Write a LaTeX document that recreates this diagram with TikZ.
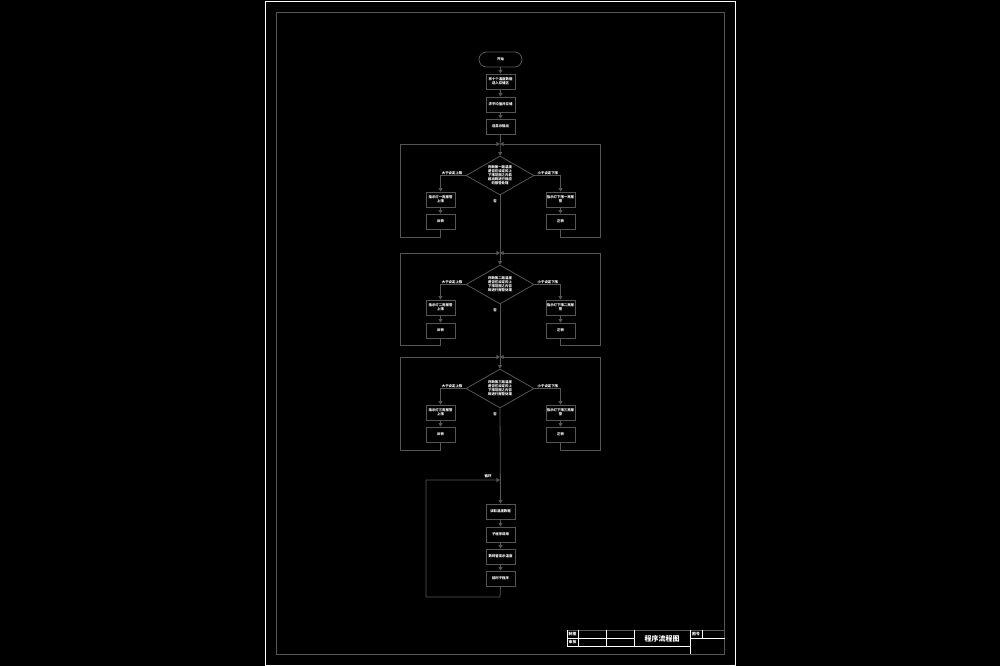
\documentclass[tikz,border=0pt]{standalone}
\usepackage{fontspec}
\newfontfamily\cjk{Noto Sans CJK SC}
\usetikzlibrary{shapes.geometric,arrows.meta}
\definecolor{lc}{HTML}{555555}
\begin{document}
\begin{tikzpicture}[x=1mm,y=-1mm,
  txt/.style={text=white,font=\cjk\bfseries\fontsize{3.4mm}{3.9mm}\selectfont},
  box/.style={txt,draw=lc,line width=0.8mm,minimum width=29mm,minimum height=15mm,inner sep=0.3mm,align=center,text width=27.5mm},
  dia/.style={txt,diamond,draw=lc,line width=0.8mm,minimum width=68mm,minimum height=39mm,inner sep=0mm,align=center,aspect=1.74},
  term/.style={txt,draw=lc,line width=0.8mm,rounded corners=7.5mm,minimum width=43mm,minimum height=15mm},
  ln/.style={draw=lc,line width=0.8mm},
  arr/.style={ln,-{Triangle[width=4mm,length=3.6mm]}},
  lab/.style={txt,inner sep=0.5mm},
  wl/.style={draw=white,line width=0.8mm},
  gl/.style={draw=lc,line width=0.8mm}]
\fill[black] (0,0) rectangle (1000,666);
\useasboundingbox (0,0) rectangle (1000,666);
% frames
\draw[wl] (265.5,1.5) rectangle (735,665);
\draw[gl] (276,12.5) rectangle (724.5,654);
% title block
\draw[gl] (567,630) -- (724.5,630);
\draw[wl] (567,630) -- (567,646);
\draw[wl] (567,638) -- (634,638);
\draw[wl] (567,646) -- (690,646);
\draw[wl] (578,630) -- (578,646);
\draw[wl] (606,630) -- (606,646);
\draw[wl] (634,630) -- (634,646);
\draw[wl] (690,630) -- (690,654);
\draw[wl] (702,630) -- (702,638);
\draw[wl] (690,638) -- (724.5,638);
\node[txt,font=\cjk\bfseries\fontsize{3.8mm}{4mm}\selectfont,inner sep=0] (tb1) at (572.5,634) {制图};
\node[txt,font=\cjk\bfseries\fontsize{3.8mm}{4mm}\selectfont,inner sep=0] (tb2) at (572.5,642) {审核};
\node[txt,font=\cjk\bfseries\fontsize{3.8mm}{4mm}\selectfont,inner sep=0] (tb3) at (696,634) {图号};
\node[txt,font=\cjk\bfseries\fontsize{7mm}{7mm}\selectfont,inner sep=0] (title) at (662,638.5) {程序流程图};
% top part
\node[term] (start) at (500.5,59.5) {开始};
\node[box] (a1) at (500.5,81.5) {将十个温度数据\\送入存储区};
\node[box] (a2) at (500.5,104.5) {求平均值并存储};
\node[box] (a3) at (500.5,126.5) {送显示输出};
\draw[arr] (start) -- (a1);
\draw[arr] (a1) -- (a2);
\draw[arr] (a2) -- (a3);
% sections
\node[dia] (d1) at (500,175.5) {判断第一路温度\\是否在设定的上\\下限范围之内若\\超出则进行相应\\的报警处理};
\node[dia] (d2) at (500,284.5) {判断第二路温度\\是否在设定的上\\下限范围之内否\\则进行报警处理};
\node[dia] (d3) at (500,388.5) {判断第三路温度\\是否在设定的上\\下限范围之内否\\则进行报警处理};
\coordinate (j1) at (500,144);
\coordinate (j2) at (500,253);
\coordinate (j3) at (500,357);
% section 1
\node[box] (l11) at (440.5,199.5) {指示灯一亮报警\\上限};
\node[box] (l12) at (440.5,221.5) {反转};
\node[box] (r11) at (560.5,199.5) {指示灯下限一亮报\\警};
\node[box] (r12) at (560.5,221.5) {正转};
% section 2
\node[box] (l21) at (440.5,307.5) {指示灯二亮报警\\上限};
\node[box] (l22) at (440.5,330.5) {反转};
\node[box] (r21) at (560.5,307.5) {指示灯下限二亮报\\警};
\node[box] (r22) at (560.5,330.5) {正转};
% section 3
\node[box] (l31) at (440.5,412.5) {指示灯三亮报警\\上限};
\node[box] (l32) at (440.5,434.5) {反转};
\node[box] (r31) at (560.5,412.5) {指示灯下限三亮报\\警};
\node[box] (r32) at (560.5,434.5) {正转};
% main line
\draw[arr] (a3) -- (d1);
\draw[arr] (d1) -- (d2);
\draw[arr] (d2) -- (d3);
% branches
\foreach \d/\l/\ll/\r/\rr/\j/\yb in {d1/l11/l12/r11/r12/j1/237, d2/l21/l22/r21/r22/j2/345, d3/l31/l32/r31/r32/j3/450}{
  \draw[arr] (\d.west) -| (\l.north);
  \draw[arr] (\l) -- (\ll);
  \draw[arr] (\d.east) -| (\r.north);
  \draw[arr] (\r) -- (\rr);
  \draw[arr] (\ll.south) -- (\ll.south |- 400,\yb) -- (400,\yb) |- (\j);
  \draw[arr] (\rr.south) -- (\rr.south |- 600,\yb) -- (600,\yb) |- (\j);
  \node[lab,anchor=south] at ([xshift=-13.5mm]\d.west) {大于设定上限};
  \node[lab,anchor=south] at ([xshift=13.5mm]\d.east) {小于设定下限};
  \node[lab] at ([xshift=-5mm,yshift=-6mm]\d.south) {否};
}
% bottom loop
\coordinate (jl) at (500,480);
\node[box] (b1) at (500.5,511.5) {读取温度数据};
\node[box] (b2) at (500.5,534.5) {子程序调用};
\node[box] (b3) at (500.5,556.5) {数码管显示温度};
\node[box] (b4) at (500.5,578.5) {延时子程序};
\draw[arr] (d3.south) -- (b1.north);
\draw[arr] (b1) -- (b2);
\draw[arr] (b2) -- (b3);
\draw[arr] (b3) -- (b4);
\draw[arr] (b4.south) -- (500,597) -- (426,597) -- (426,480) -- (jl);
\node[lab] (loop) at (488,476) {循环};
\end{tikzpicture}
\end{document}
